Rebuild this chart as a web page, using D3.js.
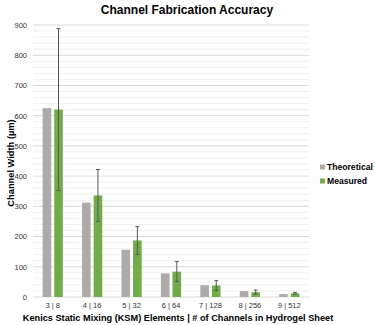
<!DOCTYPE html>
<html>
<head>
<meta charset="utf-8">
<script src="https://cdn.jsdelivr.net/npm/d3@7"></script>
<style>
  body { margin: 0; background: #fff; }
  svg { font-family: "Liberation Sans", Arial, sans-serif; }
</style>
</head>
<body>
<svg id="chart" width="375" height="325"></svg>
<script>
// data
var categories = ["3 | 8", "4 | 16", "5 | 32", "6 | 64", "7 | 128", "8 | 256", "9 | 512"];
var theoretical = [625, 312.5, 156.25, 78.1, 39.1, 19.5, 9.8];
var measured = [620, 336, 187, 84, 38, 16, 12];
var measuredErr = [268, 86, 46, 33, 16, 7, 3];
var yTicks = [0, 100, 200, 300, 400, 500, 600, 700, 800, 900];
var seriesNames = ["Theoretical", "Measured"];
var colors = ["#aeaaaa", "#70ad47"];

var svg = d3.select("#chart");
var margin = {top: 25, left: 33, right: 66, bottom: 28};
var width = 375 - margin.left - margin.right,
    height = 325 - margin.top - margin.bottom;

var g = svg.append("g")
    .attr("transform", "translate(" + margin.left + "," + margin.top + ")");

var x = d3.scaleBand()
    .domain(categories)
    .range([0, width])
    .paddingInner(0)
    .paddingOuter(0);

var y = d3.scaleLinear()
    .domain([0, 900])
    .range([height, 0]);

//minor grid
g.append("g")
    .selectAll("line")
    .data(d3.range(0, 901, 20).filter(function (d) { return d % 100 !== 0; }))
    .enter().append("line")
    .attr("x1", 0).attr("x2", width)
    .attr("y1", function (d) { return y(d); })
    .attr("y2", function (d) { return y(d); })
    .attr("stroke", "#efefef")
    .attr("stroke-width", 1);

//major grid
g.append("g")
    .selectAll("line")
    .data(yTicks)
    .enter().append("line")
    .attr("x1", 0).attr("x2", width)
    .attr("y1", function (d) { return y(d); })
    .attr("y2", function (d) { return y(d); })
    .attr("stroke", "#d9d9d9")
    .attr("stroke-width", 1);

// y axis labels
var yAxis = d3.axisLeft(y).tickValues(yTicks).tickSize(0).tickPadding(6);
var gy = g.append("g").call(yAxis);
gy.select(".domain").remove();
gy.selectAll("text")
    .attr("fill", "#333")
    .style("font-size", "7.5px");

// x axis labels
var xAxis = d3.axisBottom(x).tickSize(0).tickPadding(6);
var gx = g.append("g")
    .attr("transform", "translate(0," + height + ")")
    .call(xAxis);
gx.select(".domain").remove();
gx.selectAll("text")
    .attr("fill", "#333")
    .style("font-size", "7.5px");

// bars
var barW = 8.6, gap = 3;
var rows = categories.map(function (c, i) {
    return {cat: c, t: theoretical[i], m: measured[i], e: measuredErr[i]};
});

g.selectAll(".bar-t")
    .data(rows)
    .enter().append("rect")
    .attr("class", "bar-t")
    .attr("x", function (d) { return x(d.cat) + x.bandwidth() / 2 - gap / 2 - barW; })
    .attr("y", function (d) { return y(d.t); })
    .attr("width", barW)
    .attr("height", function (d) { return y(0) - y(d.t); })
    .attr("fill", colors[0]);

g.selectAll(".bar-m")
    .data(rows)
    .enter().append("rect")
    .attr("class", "bar-m")
    .attr("x", function (d) { return x(d.cat) + x.bandwidth() / 2 + gap / 2; })
    .attr("y", function (d) { return y(d.m); })
    .attr("width", barW)
    .attr("height", function (d) { return y(0) - y(d.m); })
    .attr("fill", colors[1]);

// error bars
var err = g.selectAll(".err")
    .data(rows)
    .enter().append("g")
    .attr("class", "err")
    .attr("stroke", "#595959")
    .attr("stroke-width", 1);
function ex(d) { return x(d.cat) + x.bandwidth() / 2 + gap / 2 + barW / 2; }
err.append("line")
    .attr("x1", ex).attr("x2", ex)
    .attr("y1", function (d) { return y(d.m + d.e); })
    .attr("y2", function (d) { return y(d.m - d.e); });
err.append("line")
    .attr("x1", function (d) { return ex(d) - 2; })
    .attr("x2", function (d) { return ex(d) + 2; })
    .attr("y1", function (d) { return y(d.m + d.e); })
    .attr("y2", function (d) { return y(d.m + d.e); });
err.append("line")
    .attr("x1", function (d) { return ex(d) - 2; })
    .attr("x2", function (d) { return ex(d) + 2; })
    .attr("y1", function (d) { return y(d.m - d.e); })
    .attr("y2", function (d) { return y(d.m - d.e); });

// title
svg.append("text")
    .attr("x", 187)
    .attr("y", 14)
    .attr("text-anchor", "middle")
    .style("font-size", "12px")
    .style("font-weight", "bold")
    .attr("fill", "#000")
    .text("Channel Fabrication Accuracy");

// axis titles
svg.append("text")
    .attr("transform", "translate(14," + (margin.top + height / 2 + 2) + ")rotate(-90)")
    .attr("text-anchor", "middle")
    .style("font-size", "9.3px")
    .style("font-weight", "bold")
    .text("Channel Width (µm)");

svg.append("text")
    .attr("x", margin.left + width / 2 + 7)
    .attr("y", 321)
    .attr("text-anchor", "middle")
    .style("font-size", "9.2px")
    .style("font-weight", "bold")
    .text("Kenics Static Mixing (KSM) Elements | # of Channels in Hydrogel Sheet");

// legend
var legend = svg.append("g")
    .attr("transform", "translate(320,167)");
var li = legend.selectAll("g")
    .data(seriesNames)
    .enter().append("g")
    .attr("transform", function (d, i) { return "translate(0," + (i * 14) + ")"; });
li.append("rect")
    .attr("x", 0).attr("y", -2.5)
    .attr("width", 5).attr("height", 5)
    .attr("fill", function (d, i) { return colors[i]; });
li.append("text")
    .attr("x", 7)
    .attr("y", 3)
    .style("font-size", "8.6px")
    .style("font-weight", "bold")
    .text(function (d) { return d; });
</script>
</body>
</html>
